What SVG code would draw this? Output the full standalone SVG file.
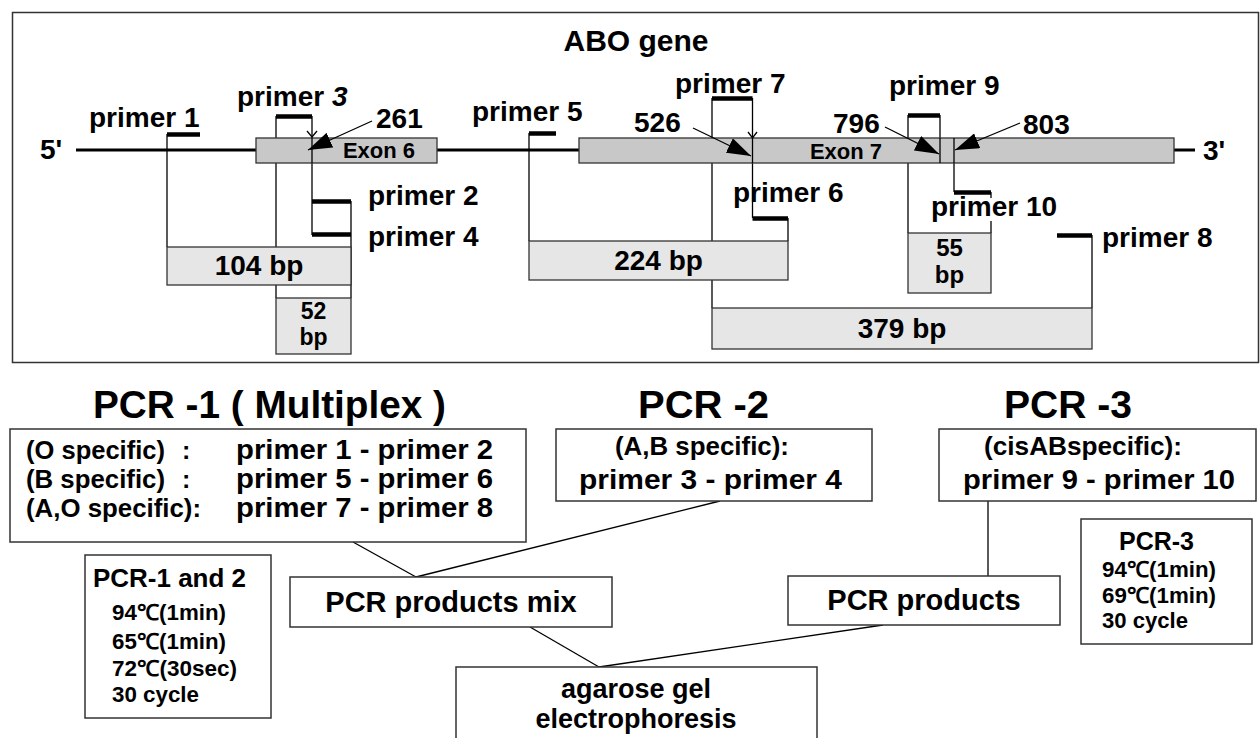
<svg xmlns="http://www.w3.org/2000/svg" width="1260" height="738" viewBox="0 0 1260 738">
<style>
.t{font-family:"Liberation Sans",Arial,sans-serif;font-weight:bold;fill:#000}
.ln{stroke:#000;stroke-width:1.3;fill:none}
.bar{stroke:#000;stroke-width:4.5;fill:none}
.gene{stroke:#000;stroke-width:3;fill:none}
.exon{fill:#c8c8c8;stroke:#333;stroke-width:1.3}
.prod{fill:#e6e6e6;stroke:#333;stroke-width:1.3}
.box{fill:#fff;stroke:#333;stroke-width:1.5}
.g28{font-size:28px}
.g22{font-size:22px}
</style>
<defs>
<marker id="tri" markerUnits="userSpaceOnUse" markerWidth="24" markerHeight="16" refX="24" refY="8" orient="auto">
<path d="M0,0 L24,8 L0,16 z" fill="#000"/>
</marker>
</defs>
<rect x="0" y="0" width="1260" height="738" fill="#fff"/>

<g id="gene-panel">
<rect class="box" x="12.5" y="12.5" width="1246" height="350" fill="none"/>
<text class="t" x="636" y="51" font-size="30" text-anchor="middle">ABO gene</text>
<line class="gene" x1="76" y1="150" x2="1195" y2="150"/>
<text class="t g28" x="40" y="159">5'</text>
<text class="t g28" x="1203" y="160">3'</text>
</g>

<g id="connectors">
<line class="ln" x1="167" y1="134" x2="167" y2="247"/>
<line class="ln" x1="276" y1="116" x2="276" y2="298"/>
<line class="ln" x1="312" y1="116" x2="312" y2="235"/>
<line class="ln" x1="351" y1="201" x2="351" y2="298"/>
<line class="ln" x1="529" y1="133" x2="529" y2="241"/>
<line class="ln" x1="712" y1="98" x2="712" y2="308"/>
<line class="ln" x1="752.5" y1="98" x2="752.5" y2="218"/>
<line class="ln" x1="788" y1="218" x2="788" y2="241"/>
<line class="ln" x1="908" y1="115" x2="908" y2="233"/>
<line class="ln" x1="940" y1="115" x2="940" y2="163"/>
<line class="ln" x1="954" y1="150" x2="954" y2="192"/>
<line class="ln" x1="991" y1="192" x2="991" y2="198"/>
<line class="ln" x1="991" y1="221" x2="991" y2="233"/>
<line class="ln" x1="1092" y1="235" x2="1092" y2="308"/>
</g>

<g id="exon6">
<rect class="exon" x="256" y="138" width="181" height="25"/>
<text class="t g22" x="379" y="158" text-anchor="middle">Exon 6</text>
</g>
<g id="exon7">
<rect class="exon" x="579" y="138" width="595" height="25"/>
<text class="t g22" x="846" y="159" text-anchor="middle">Exon 7</text>
</g>

<g id="gene-marks">
<line class="ln" x1="312" y1="138" x2="312" y2="163"/>
<line class="ln" x1="752.5" y1="138" x2="752.5" y2="163"/>
<line class="ln" x1="940" y1="138" x2="940" y2="163"/>
<line class="ln" x1="954" y1="138" x2="954" y2="163"/>
<path class="ln" d="M307,131 L312,137 L317,131"/>
<path class="ln" d="M748,132 L752.5,138 L757,132"/>
<line class="ln" x1="372" y1="121" x2="308" y2="150" marker-end="url(#tri)"/>
<line class="ln" x1="693" y1="128" x2="751" y2="156" marker-end="url(#tri)"/>
<line class="ln" x1="885" y1="127" x2="939" y2="154" marker-end="url(#tri)"/>
<line class="ln" x1="1020" y1="123" x2="955" y2="150" marker-end="url(#tri)"/>
<text class="t g28" x="376" y="128">261</text>
<text class="t g28" x="634" y="132">526</text>
<text class="t g28" x="833" y="133">796</text>
<text class="t g28" x="1023" y="134">803</text>
</g>

<g id="primer1"><line class="bar" x1="167" y1="134.5" x2="200" y2="134.5"/><text class="t g28" x="89" y="127">primer 1</text></g>
<g id="primer3"><line class="bar" x1="276" y1="116.5" x2="312" y2="116.5"/><text class="t g28" x="237" y="106">primer <tspan font-style="italic">3</tspan></text></g>
<g id="primer2"><line class="bar" x1="312" y1="201.5" x2="351" y2="201.5"/><text class="t g28" x="368" y="205">primer 2</text></g>
<g id="primer4"><line class="bar" x1="312" y1="234.5" x2="351" y2="234.5"/><text class="t g28" x="368" y="246">primer 4</text></g>
<g id="primer5"><line class="bar" x1="529" y1="133.5" x2="556" y2="133.5"/><text class="t g28" x="472" y="121">primer 5</text></g>
<g id="primer7"><line class="bar" x1="712" y1="98.5" x2="752.5" y2="98.5"/><text class="t g28" x="675" y="93">primer 7</text></g>
<g id="primer6"><line class="bar" x1="752.5" y1="218.5" x2="788" y2="218.5"/><text class="t g28" x="733" y="202">primer 6</text></g>
<g id="primer9"><line class="bar" x1="908" y1="115.5" x2="940" y2="115.5"/><text class="t g28" x="889" y="95">primer 9</text></g>
<g id="primer10"><line class="bar" x1="954" y1="192.5" x2="991" y2="192.5"/><text class="t g28" x="931" y="216">primer 10</text></g>
<g id="primer8"><line class="bar" x1="1057" y1="235.5" x2="1092" y2="235.5"/><text class="t g28" x="1102" y="247">primer 8</text></g>

<g id="prod104"><rect class="prod" x="167" y="247" width="184" height="38"/><text class="t g28" x="259" y="275" text-anchor="middle">104 bp</text></g>
<g id="prod52"><rect class="prod" x="276" y="298" width="75" height="56"/><text class="t" font-size="23" text-anchor="middle"><tspan x="313.5" y="319">52</tspan><tspan x="313.5" y="345">bp</tspan></text></g>
<g id="prod224"><rect class="prod" x="529" y="241" width="259" height="39"/><text class="t g28" x="658.5" y="270" text-anchor="middle">224 bp</text></g>
<g id="prod55"><rect class="prod" x="908" y="233" width="83" height="60"/><text class="t" font-size="24" text-anchor="middle"><tspan x="949.5" y="256">55</tspan><tspan x="949.5" y="283">bp</tspan></text></g>
<g id="prod379"><rect class="prod" x="712" y="308" width="380" height="41"/><text class="t g28" x="902" y="338" text-anchor="middle">379 bp</text></g>

<g id="flow-connectors">
<line class="ln" x1="353" y1="542" x2="416" y2="577"/>
<line class="ln" x1="720" y1="501" x2="416" y2="577"/>
<line class="ln" x1="988" y1="501" x2="988" y2="576"/>
<line class="ln" x1="530" y1="627" x2="599" y2="667"/>
<line class="ln" x1="883" y1="625" x2="599" y2="667"/>
</g>

<g id="pcr1-title"><text class="t" font-size="39" x="93" y="418" textLength="353" lengthAdjust="spacingAndGlyphs">PCR -1 ( Multiplex )</text></g>
<g id="pcr2-title"><text class="t" font-size="39" x="638" y="418" textLength="131" lengthAdjust="spacingAndGlyphs">PCR -2</text></g>
<g id="pcr3-title"><text class="t" font-size="39" x="1004" y="418" textLength="128" lengthAdjust="spacingAndGlyphs">PCR -3</text></g>

<g id="pcr1-box">
<rect class="box" x="10" y="429" width="516" height="113"/>
<text class="t" font-size="25" x="26" y="459" textLength="139" lengthAdjust="spacingAndGlyphs">(O specific)</text>
<text class="t" font-size="25" x="182" y="459">:</text>
<text class="t" font-size="25" x="26" y="488" textLength="139" lengthAdjust="spacingAndGlyphs">(B specific)</text>
<text class="t" font-size="25" x="182" y="488">:</text>
<text class="t" font-size="25" x="26" y="517" textLength="175" lengthAdjust="spacingAndGlyphs">(A,O specific):</text>
<text class="t" font-size="27" x="236" y="459" textLength="257" lengthAdjust="spacingAndGlyphs">primer 1 - primer 2</text>
<text class="t" font-size="27" x="236" y="488" textLength="257" lengthAdjust="spacingAndGlyphs">primer 5 - primer 6</text>
<text class="t" font-size="27" x="236" y="517" textLength="257" lengthAdjust="spacingAndGlyphs">primer 7 - primer 8</text>
</g>

<g id="pcr2-box">
<rect class="box" x="556" y="429" width="316" height="72"/>
<text class="t" font-size="25" x="615" y="455" textLength="174" lengthAdjust="spacingAndGlyphs">(A,B specific):</text>
<text class="t" font-size="28" x="579" y="489" textLength="263" lengthAdjust="spacingAndGlyphs">primer 3 - primer 4</text>
</g>

<g id="pcr3-box">
<rect class="box" x="939" y="429" width="317" height="72"/>
<text class="t" font-size="25" x="984" y="455" textLength="198" lengthAdjust="spacingAndGlyphs">(cisABspecific):</text>
<text class="t" font-size="28" x="963" y="489" textLength="272" lengthAdjust="spacingAndGlyphs">primer 9 - primer 10</text>
</g>

<g id="cond12">
<rect class="box" x="85" y="555" width="186" height="163"/>
<text class="t" font-size="26" x="93" y="587" textLength="153" lengthAdjust="spacingAndGlyphs">PCR-1 and 2</text>
<text class="t" font-size="22" x="112" y="620" textLength="114" lengthAdjust="spacingAndGlyphs">94℃(1min)</text>
<text class="t" font-size="22" x="112" y="649" textLength="114" lengthAdjust="spacingAndGlyphs">65℃(1min)</text>
<text class="t" font-size="22" x="112" y="676" textLength="125" lengthAdjust="spacingAndGlyphs">72℃(30sec)</text>
<text class="t" font-size="22" x="112" y="702" textLength="87" lengthAdjust="spacingAndGlyphs">30 cycle</text>
</g>

<g id="cond3">
<rect class="box" x="1081" y="519" width="171" height="125"/>
<text class="t" font-size="26" x="1119" y="550" textLength="75" lengthAdjust="spacingAndGlyphs">PCR-3</text>
<text class="t" font-size="22" x="1102" y="577" textLength="114" lengthAdjust="spacingAndGlyphs">94℃(1min)</text>
<text class="t" font-size="22" x="1102" y="603" textLength="114" lengthAdjust="spacingAndGlyphs">69℃(1min)</text>
<text class="t" font-size="22" x="1102" y="628" textLength="86" lengthAdjust="spacingAndGlyphs">30 cycle</text>
</g>

<g id="mix">
<rect class="box" x="290" y="577" width="322" height="50"/>
<text class="t" font-size="29" x="451" y="612" text-anchor="middle">PCR products mix</text>
</g>

<g id="products">
<rect class="box" x="788" y="576" width="272" height="49"/>
<text class="t" font-size="29" x="924" y="610" text-anchor="middle">PCR products</text>
</g>

<g id="agarose">
<rect class="box" x="456" y="667" width="361" height="100"/>
<text class="t" font-size="27" x="636" y="698" text-anchor="middle">agarose gel</text>
<text class="t" font-size="27" x="636" y="728" text-anchor="middle">electrophoresis</text>
</g>
</svg>
